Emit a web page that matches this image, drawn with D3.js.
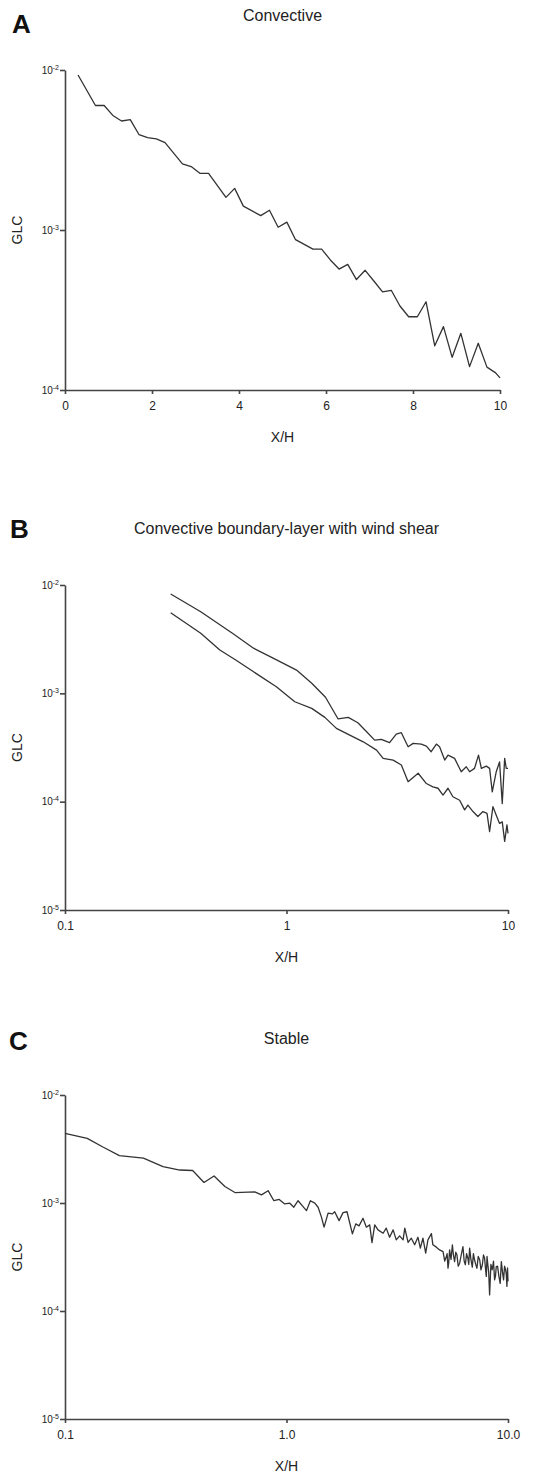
<!DOCTYPE html>
<html>
<head>
<meta charset="utf-8">
<script src="https://cdn.jsdelivr.net/npm/d3@7"></script>
<style>
  body { margin: 0; background: #fff; }
  svg { font-family: "Liberation Sans", Arial, sans-serif; }
</style>
</head>
<body>
<div id="chart"></div>
<script>
// panel A - convective, linear X/H
const xA = [0.3, 0.7, 0.9, 1.1, 1.3, 1.5, 1.7, 1.9, 2.1, 2.3, 2.7, 2.9, 3.1, 3.3, 3.7, 3.9,
  4.1, 4.5, 4.7, 4.9, 5.1, 5.3, 5.7, 5.9, 6.1, 6.3, 6.5, 6.7, 6.9, 7.1, 7.3, 7.5, 7.7, 7.9,
  8.1, 8.3, 8.5, 8.7, 8.9, 9.1, 9.3, 9.5, 9.7, 9.9, 10.0];
const glcA = [9.3e-3, 6.0e-3, 6.0e-3, 5.2e-3, 4.8e-3, 4.9e-3, 3.95e-3, 3.78e-3, 3.71e-3, 3.52e-3,
  2.59e-3, 2.49e-3, 2.26e-3, 2.26e-3, 1.6e-3, 1.82e-3, 1.41e-3, 1.23e-3, 1.33e-3, 1.04e-3,
  1.12e-3, 8.7e-4, 7.6e-4, 7.6e-4, 6.5e-4, 5.7e-4, 6.1e-4, 4.9e-4, 5.6e-4, 4.8e-4, 4.1e-4,
  4.2e-4, 3.35e-4, 2.87e-4, 2.87e-4, 3.56e-4, 1.89e-4, 2.49e-4, 1.6e-4, 2.26e-4, 1.4e-4,
  1.96e-4, 1.39e-4, 1.28e-4, 1.19e-4];

// panel B - convective with wind shear, two curves
const xBUpper = [0.3, 0.41, 0.57, 0.71, 0.87, 1.11, 1.3, 1.5, 1.71, 1.9, 2.1, 2.3, 2.5, 2.68,
  2.92, 3.13, 3.3, 3.54, 3.73, 4.06, 4.28, 4.5, 4.75, 4.91, 5.18, 5.36, 5.74, 6.15, 6.48,
  6.71, 7.06, 7.36, 7.58, 7.98, 8.26, 8.49, 8.85, 9.16, 9.42, 9.66, 9.82, 10.0];
const glcBUpper = [8.26e-3, 5.67e-3, 3.58e-3, 2.61e-3, 2.11e-3, 1.64e-3, 1.24e-3, 9.2e-4, 5.8e-4,
  6.0e-4, 5.35e-4, 4.42e-4, 3.7e-4, 3.76e-4, 3.5e-4, 4.21e-4, 4.33e-4, 3.21e-4, 3.45e-4,
  3.4e-4, 3.26e-4, 2.89e-4, 3.4e-4, 3.21e-4, 2.42e-4, 2.69e-4, 2.51e-4, 1.89e-4, 2.1e-4,
  1.89e-4, 2.03e-4, 2.69e-4, 2.03e-4, 2.13e-4, 2.03e-4, 1.23e-4, 1.89e-4, 2.33e-4, 9.6e-5,
  2.51e-4, 2.03e-4, 2.03e-4];
const xBLower = [0.3, 0.41, 0.5, 0.59, 0.71, 0.9, 1.09, 1.3, 1.49, 1.68, 1.93, 2.22, 2.55, 2.73,
  3.03, 3.3, 3.54, 3.93, 4.28, 4.58, 4.83, 5.09, 5.36, 5.64, 6.05, 6.37, 6.59, 6.95, 7.31,
  7.71, 8.04, 8.26, 8.55, 8.85, 9.16, 9.42, 9.66, 9.89, 10.0];
const glcBLower = [5.55e-3, 3.58e-3, 2.51e-3, 2.03e-3, 1.58e-3, 1.15e-3, 8.36e-4, 7.26e-4, 6.0e-4,
  4.75e-4, 4.12e-4, 3.57e-4, 2.99e-4, 2.51e-4, 2.42e-4, 2.18e-4, 1.53e-4, 1.83e-4, 1.47e-4,
  1.37e-4, 1.33e-4, 1.15e-4, 1.33e-4, 1.11e-4, 1.03e-4, 8.4e-5, 9.3e-5, 8.1e-5, 7.3e-5,
  8.1e-5, 7.8e-5, 5.3e-5, 9.0e-5, 7.5e-5, 6.3e-5, 6.5e-5, 4.3e-5, 6.1e-5, 5.1e-5];

// panel C - stable (noisy tail read as a zigzag band)
const xC = [0.1, 0.126, 0.149, 0.176, 0.226, 0.277, 0.33, 0.377, 0.424, 0.471, 0.527, 0.585,
  0.719, 0.771, 0.826, 0.877, 0.927, 0.982, 1.035, 1.079, 1.128, 1.18, 1.231, 1.282, 1.342,
  1.389, 1.438, 1.478, 1.541, 1.612, 1.65, 1.727, 1.8, 1.876, 1.984, 2.054, 2.126, 2.215,
  2.294, 2.375, 2.432, 2.502, 2.589, 2.73, 2.82, 2.92, 3.03, 3.13, 3.24, 3.36, 3.42, 3.54,
  3.66, 3.79, 3.92, 4.02, 4.13, 4.25, 4.35, 4.51, 4.58, 4.75, 4.91, 5.09, 5.18, 5.27, 5.31,
  5.36, 5.4, 5.45, 5.53, 5.61, 5.67, 5.74, 5.81, 5.88, 5.96, 6.05, 6.15, 6.26, 6.34, 6.42,
  6.5, 6.59, 6.65, 6.71, 6.8, 6.9, 6.98, 7.06, 7.15, 7.24, 7.34, 7.45, 7.55, 7.66, 7.75,
  7.84, 7.91, 7.98, 8.04, 8.11, 8.18, 8.26, 8.37, 8.49, 8.6, 8.7, 8.78, 8.85, 8.97, 9.1,
  9.22, 9.33, 9.44, 9.55, 9.65, 9.75, 9.82, 9.89, 9.95, 10.0];
const glcC = [4.42e-3, 3.97e-3, 3.28e-3, 2.75e-3, 2.6e-3, 2.17e-3, 2.02e-3, 2.0e-3, 1.55e-3,
  1.78e-3, 1.42e-3, 1.25e-3, 1.27e-3, 1.19e-3, 1.3e-3, 1.05e-3, 1.08e-3, 9.8e-4, 9.96e-4,
  9.14e-4, 1.05e-3, 9.4e-4, 8.5e-4, 1.05e-3, 9.96e-4, 9.14e-4, 7.4e-4, 5.97e-4, 8.05e-4,
  7.93e-4, 8.3e-4, 6.87e-4, 8.15e-4, 8.3e-4, 5.18e-4, 6.41e-4, 6.14e-4, 7.23e-4, 5.97e-4,
  6.27e-4, 4.3e-4, 6.27e-4, 5.64e-4, 5.25e-4, 5.85e-4, 4.82e-4, 5.64e-4, 4.56e-4, 4.96e-4,
  4.56e-4, 5.85e-4, 4.31e-4, 4.72e-4, 4.1e-4, 4.82e-4, 3.82e-4, 4.72e-4, 3.43e-4, 4.56e-4,
  5.2e-4, 4.1e-4, 3.9e-4, 3.68e-4, 3.55e-4, 2.9e-4, 3.19e-4, 3.4e-4, 2.49e-4, 2.8e-4,
  3.68e-4, 3.0e-4, 4.1e-4, 3.3e-4, 2.87e-4, 3.5e-4, 3.31e-4, 2.6e-4, 2.77e-4, 3.3e-4,
  3.95e-4, 2.9e-4, 2.68e-4, 3.4e-4, 3.08e-4, 2.7e-4, 3.82e-4, 3.0e-4, 2.55e-4, 3.4e-4,
  2.98e-4, 2.7e-4, 2.49e-4, 3.2e-4, 2.98e-4, 2.4e-4, 2.68e-4, 3.3e-4, 3.08e-4, 2.5e-4,
  2.09e-4, 3.2e-4, 2.68e-4, 2.3e-4, 1.41e-4, 2.7e-4, 2.41e-4, 2.9e-4, 1.94e-4, 2.1e-4,
  2.58e-4, 2.6e-4, 2.09e-4, 1.8e-4, 2.87e-4, 2.3e-4, 1.94e-4, 2.6e-4, 2.41e-4, 2.2e-4,
  1.69e-4, 2.5e-4, 1.88e-4];

const yTicksA = [1e-2, 1e-3, 1e-4];
const yTicksBC = [1e-2, 1e-3, 1e-4, 1e-5];
const xTicksA = [0, 2, 4, 6, 8, 10];
const xTicksLog = [0.1, 1, 10];
const xLabelsB = ["0.1", "1", "10"];
const xLabelsC = ["0.1", "1.0", "10.0"];

const width = 551, height = 1475;
const ink = "#333";

const svg = d3.select("#chart").append("svg")
  .attr("width", width)
  .attr("height", height);

function drawPanel(p) {
  const g = svg.append("g");

  const x = p.logX
    ? d3.scaleLog().domain(p.xDomain).range([p.left, p.right])
    : d3.scaleLinear().domain(p.xDomain).range([p.left, p.right]);
  const y = d3.scaleLog().domain(p.yDomain).range([p.bottom, p.top]);

  // panel letter + title
  g.append("text")
    .attr("x", p.letterX)
    .attr("y", p.letterY)
    .attr("font-size", 26)
    .attr("font-weight", 700)
    .attr("fill", "#111")
    .text(p.letter);
  g.append("text")
    .attr("x", (p.left + p.right) / 2)
    .attr("y", p.titleY)
    .attr("text-anchor", "middle")
    .attr("font-size", 16)
    .attr("fill", "#222")
    .text(p.title);

  // y axis
  const yAxis = g.append("g")
    .attr("transform", `translate(${p.left},0)`)
    .call(d3.axisLeft(y).tickValues(p.yTicks).tickSize(5).tickSizeOuter(0).tickPadding(4));
  yAxis.selectAll("text").each(function(d) {
    const t = d3.select(this);
    t.text("10").attr("font-size", 10).attr("fill", "#222").attr("dx", 3);
    t.append("tspan")
      .attr("dy", -4)
      .attr("font-size", 7)
      .text(Math.round(Math.log10(d)));
  });

  // x axis
  const xAxis = g.append("g")
    .attr("transform", `translate(0,${p.bottom})`)
    .call(d3.axisBottom(x).tickValues(p.xTicks).tickSize(4).tickSizeOuter(0).tickPadding(7)
      .tickFormat((d, i) => p.xLabels[i]));
  xAxis.selectAll("text").attr("font-size", 12).attr("fill", "#222");

  g.selectAll(".domain, .tick line")
    .attr("stroke", "#444")
    .attr("stroke-width", 1.6);

  // axis labels
  g.append("text")
    .attr("x", (p.left + p.right) / 2)
    .attr("y", p.bottom + 52)
    .attr("text-anchor", "middle")
    .attr("font-size", 14)
    .attr("fill", "#222")
    .text("X/H");
  g.append("text")
    .attr("transform", `translate(22,${(p.top + p.bottom) / 2}) rotate(-90)`)
    .attr("text-anchor", "middle")
    .attr("font-size", 14)
    .attr("fill", "#222")
    .text("GLC");

  const line = d3.line()
    .x(d => x(d[0]))
    .y(d => y(d[1]));

  p.series.forEach(s => {
    g.append("path")
      .datum(d3.zip(s.xs, s.ys))
      .attr("fill", "none")
      .attr("stroke", ink)
      .attr("stroke-width", 1.3)
      .attr("stroke-linejoin", "round")
      .attr("d", line);
  });
}

drawPanel({
  letter: "A", letterX: 12, letterY: 33,
  title: "Convective", titleY: 21,
  left: 65, right: 500, top: 70, bottom: 390,
  logX: false, xDomain: [0, 10], yDomain: [1e-4, 1e-2],
  xTicks: xTicksA, xLabels: xTicksA.map(String), yTicks: yTicksA,
  series: [{ xs: xA, ys: glcA }]
});

drawPanel({
  letter: "B", letterX: 10, letterY: 538,
  title: "Convective boundary-layer with wind shear", titleY: 534,
  left: 65, right: 508, top: 585, bottom: 910,
  logX: true, xDomain: [0.1, 10], yDomain: [1e-5, 1e-2],
  xTicks: xTicksLog, xLabels: xLabelsB, yTicks: yTicksBC,
  series: [{ xs: xBUpper, ys: glcBUpper }, { xs: xBLower, ys: glcBLower }]
});

drawPanel({
  letter: "C", letterX: 9, letterY: 1050,
  title: "Stable", titleY: 1044,
  left: 65, right: 508, top: 1095, bottom: 1419,
  logX: true, xDomain: [0.1, 10], yDomain: [1e-5, 1e-2],
  xTicks: xTicksLog, xLabels: xLabelsC, yTicks: yTicksBC,
  series: [{ xs: xC, ys: glcC }]
});
</script>
</body>
</html>
